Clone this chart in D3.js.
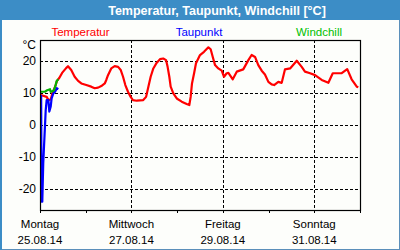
<!DOCTYPE html>
<html>
<head>
<meta charset="utf-8">
<script src="https://cdn.jsdelivr.net/npm/d3@7"></script>
<style>
  html, body { margin: 0; padding: 0; background: #fdfefb; }
  svg { display: block; }
</style>
</head>
<body>
<svg id="chart"></svg>
<script>
// Stunden seit 25.08.14 00:00 und Werte in °C
const tempHours = [0.4, 3.5, 4.4, 5.6, 6.7, 7.9, 8.9, 10.1, 11.6, 13.7, 14.7, 16.4, 18.2, 20.0, 21.7, 24.3, 26.9, 28.7, 30.5, 32.2,
  34.0, 34.8, 35.7, 37.4, 39.2, 41.0, 42.4, 43.6, 44.8, 46.2, 47.6, 48.8, 50.8, 54.2, 55.7, 56.9, 58.1, 59.5, 61.3, 63.0,
  64.7, 66.2, 67.0, 67.9, 68.6, 70.0, 71.8, 74.4, 77.0, 78.4, 79.1, 79.8, 80.9, 81.9, 84.0, 86.1, 88.4, 89.6, 90.7, 91.9,
  93.6, 95.4, 96.6, 98.0, 98.9, 101.2, 103.3, 106.7, 109.4, 111.1, 112.9, 114.6, 116.4, 118.1, 119.9, 121.6, 122.9, 125.1, 126.9, 128.6,
  131.3, 134.8, 137.4, 139.1, 141.8, 144.4, 147.9, 151.4, 153.7, 158.4, 161.3, 163.6, 166.3, 167.1];
const tempValues = [9.4, 8.8, 7.8, 8.0, 10.3, 11.9, 13.8, 14.7, 16.3, 17.8, 18.4, 17.2, 15.1, 13.8, 13.0, 12.5, 12.0, 11.5, 11.7, 12.2,
  13.0, 14.1, 15.6, 17.7, 18.4, 18.2, 17.2, 15.1, 12.5, 10.4, 8.8, 7.8, 7.6, 7.8, 8.8, 12.0, 15.1, 17.7, 19.5, 20.6,
  20.8, 20.3, 18.2, 15.1, 12.0, 9.9, 8.3, 7.3, 6.6, 6.25, 8.8, 13.0, 16.2, 19.3, 21.9, 22.9, 24.3, 23.7, 21.3, 18.75,
  17.7, 17.0, 15.1, 16.2, 16.3, 14.3, 16.7, 17.4, 20.3, 21.9, 21.3, 18.75, 17.0, 15.8, 13.5, 12.7, 12.5, 13.5, 13.2, 17.4,
  17.7, 20.1, 18.2, 16.7, 16.2, 15.6, 14.1, 13.2, 16.2, 16.2, 17.5, 14.3, 12.0, 11.8];

const dewHours = [0.6, 0.8, 1.2, 1.7, 2.1, 2.6, 3.0, 3.5, 4.4, 4.9, 5.6, 6.1, 7.0, 7.9, 8.8, 9.6];
const dewValues = [9.4, -24.0, -24.0, -12.0, -6.8, -0.5, 4.7, 7.8, 7.8, 4.2, 5.7, 8.3, 9.9, 10.4, 11.5, 11.2];

const chillHours = [0.4, 2.6, 3.8, 5.25, 5.6, 6.7, 7.35, 8.2, 8.8, 9.6];
const chillValues = [10.4, 10.4, 10.9, 11.2, 10.4, 10.6, 10.9, 12.5, 13.8, 14.3];

const yTicks = [20, 10, 0, -10, -20];
const dayNames = ["Sonntag", "Montag", "Dienstag", "Mittwoch", "Donnerstag", "Freitag", "Samstag"];
const startDate = new Date(2014, 7, 25);
const endDate = new Date(2014, 8, 1);

const width = 400, height = 250;
const margin = { top: 40, right: 40, bottom: 40, left: 40 };

const svg = d3.select("#chart").attr("width", width).attr("height", height);

// Rahmen und Titelleiste
svg.append("rect").attr("x", 0.5).attr("y", 0.5).attr("width", width - 1).attr("height", height - 1)
  .attr("fill", "#fdfefb").attr("stroke", "#5b8fba");
svg.append("rect").attr("x", 0).attr("y", 0).attr("width", 2).attr("height", height).attr("fill", "#3c8dc6");
svg.append("rect").attr("x", 0).attr("y", 0).attr("width", width).attr("height", 20).attr("fill", "#3c8dc6");
svg.append("text").attr("x", 217).attr("y", 15).attr("text-anchor", "middle")
  .style("font-family", "'Liberation Sans', Arial, sans-serif").style("font-size", "12.5px").style("font-weight", "bold")
  .attr("fill", "white").text("Temperatur, Taupunkt, Windchill [°C]");

const x = d3.scaleTime().domain([startDate, endDate]).range([margin.left, width - margin.right]);
const y = d3.scaleLinear().domain([-26.6, 26.6]).range([height - margin.bottom, margin.top]);

const font = "'Liberation Sans', Arial, sans-serif";

// Gitter
const g = svg.append("g");
g.selectAll(".hgrid").data(yTicks).enter().append("line")
  .attr("x1", margin.left).attr("x2", width - margin.right)
  .attr("y1", d => Math.round(y(d)) + 0.5).attr("y2", d => Math.round(y(d)) + 0.5)
  .attr("stroke", "black").attr("stroke-dasharray", "3,2");

const majorDays = d3.timeDay.every(2).range(startDate, endDate);
const allDays = d3.timeDay.range(startDate, d3.timeDay.offset(endDate, 1));
g.selectAll(".vgrid").data(majorDays.slice(1)).enter().append("line")
  .attr("x1", d => Math.round(x(d)) + 0.5).attr("x2", d => Math.round(x(d)) + 0.5)
  .attr("y1", margin.top).attr("y2", height - margin.bottom)
  .attr("stroke", "black").attr("stroke-dasharray", "3,2");

// Ticks unten
g.selectAll(".tick").data(allDays).enter().append("line")
  .attr("x1", d => Math.round(x(d)) + 0.5).attr("x2", d => Math.round(x(d)) + 0.5)
  .attr("y1", height - margin.bottom).attr("y2", height - margin.bottom + 3)
  .attr("stroke", "black");

// Linien
const line = d3.line().x(d => x(d3.timeMinute.offset(startDate, Math.round(d[0] * 60)))).y(d => y(d[1]));
const series = [
  { hours: tempHours, values: tempValues, color: "#ff0000" },
  { hours: dewHours, values: dewValues, color: "#0000ff" },
  { hours: chillHours, values: chillValues, color: "#00b400" }
];
series.forEach(s => {
  svg.append("path")
    .datum(s.hours.map((h, i) => [h, s.values[i]]))
    .attr("d", line)
    .attr("fill", "none")
    .attr("stroke", s.color)
    .attr("stroke-width", 2.2)
    .attr("stroke-linejoin", "round");
});

// Achsenrahmen
svg.append("rect")
  .attr("x", margin.left + 0.5).attr("y", margin.top + 0.5)
  .attr("width", width - margin.left - margin.right).attr("height", height - margin.top - margin.bottom)
  .attr("fill", "none").attr("stroke", "black").attr("stroke-width", 1.2);

// Y-Beschriftung
svg.selectAll(".ylab").data(yTicks).enter().append("text")
  .attr("x", 36).attr("y", d => y(d)).attr("dy", "0.35em").attr("text-anchor", "end")
  .style("font-family", font).style("font-size", "12px").text(d => d);
svg.append("text").attr("x", 36).attr("y", 49).attr("text-anchor", "end")
  .style("font-family", font).style("font-size", "12px").text("°C");

// X-Beschriftung
const fmt = d3.timeFormat("%d.%m.%y");
const xl = svg.selectAll(".xlab").data(majorDays).enter().append("g");
xl.append("text").attr("x", d => x(d)).attr("y", 228).attr("text-anchor", "middle")
  .style("font-family", font).style("font-size", "11.5px").text(d => dayNames[d.getDay()]);
xl.append("text").attr("x", d => x(d)).attr("y", 244).attr("text-anchor", "middle")
  .style("font-family", font).style("font-size", "11.5px").text(d => fmt(d));

// Legende
const legend = [
  { label: "Temperatur", color: "#ff0000", cx: 80.5 },
  { label: "Taupunkt", color: "#0000ff", cx: 199 },
  { label: "Windchill", color: "#00c000", cx: 319 }
];
svg.selectAll(".leg").data(legend).enter().append("text")
  .attr("x", d => d.cx).attr("y", 36).attr("text-anchor", "middle")
  .style("font-family", font).style("font-size", "11.5px").attr("fill", d => d.color).text(d => d.label);
</script>
</body>
</html>
